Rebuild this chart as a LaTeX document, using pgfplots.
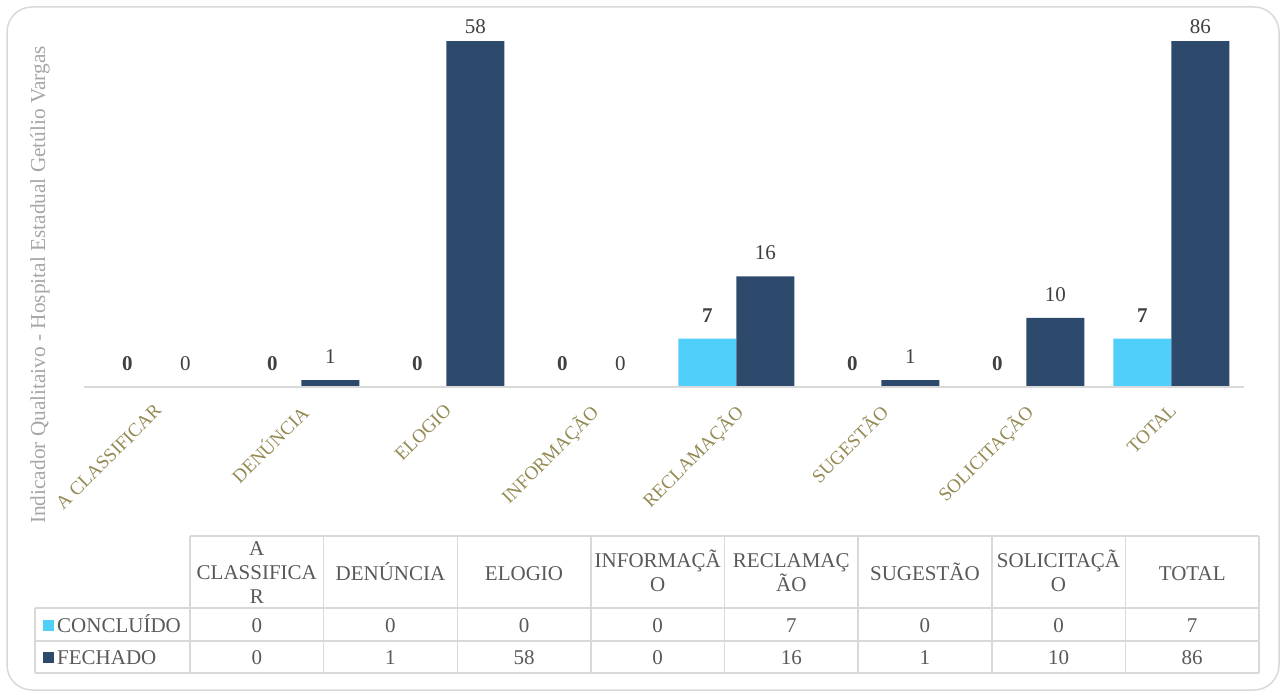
\documentclass[border=0pt]{standalone}
\usepackage{fontspec}
\setmainfont{Liberation Serif}
\usepackage{pgfplots}
\usepackage{pgfplotstable}
\pgfplotsset{compat=1.18}
\definecolor{cblue}{HTML}{4FCFFA}
\definecolor{cnavy}{HTML}{2D4A6C}
\definecolor{tickc}{HTML}{948A54}
\definecolor{labc}{HTML}{404040}
\definecolor{gridc}{HTML}{D9D9D9}
\definecolor{tabc}{HTML}{595959}
\definecolor{ylabc}{HTML}{A6A6A6}

\pgfplotstableread{
x c f
0 0 0
1 0 1
2 0 58
3 0 0
4 7 16
5 0 1
6 0 10
7 7 86
}\data

\newcommand{\tf}{\fontsize{21}{24}\selectfont}

\begin{document}
\begin{tikzpicture}[x=1pt,y=1pt]
\path[use as bounding box] (0,0) rectangle (1286,697);
\draw[gridc, line width=1.5pt, rounded corners=25pt] (7,7) rectangle (1279,690);
\node[rotate=90, text=ylabc, font=\fontsize{21.3}{24}\selectfont] at (40,412) {Indicador Qualitaivo - Hospital Estadual Getúlio Vargas};
\begin{axis}[
  at={(84pt,310pt)}, anchor=south west,
  width=1160pt, height=346pt, scale only axis,
  xmin=-0.5, xmax=7.5, ymin=0, ymax=50,
  ybar=0pt, bar width=58pt,
  hide y axis,
  axis x line*=bottom,
  axis on top,
  x axis line style={draw=gridc, line width=1.5pt, -},
  xtick={0,...,7},
  xticklabels={A CLASSIFICAR, DENÚNCIA, ELOGIO, INFORMAÇÃO, RECLAMAÇÃO, SUGESTÃO, SOLICITAÇÃO, TOTAL},
  major tick length=0pt,
  xticklabel style={xshift=-3pt, yshift=-11pt, rotate=45, anchor=north east, font=\fontsize{19}{22}\selectfont, text=tickc},
  clip=false,
  /pgf/number format/assume math mode=true,
  nodes near coords,
  nodes near coords style={font=\tf, text=labc, anchor=south, inner sep=0pt},
]
\addplot[fill=cblue, draw=none, nodes near coords style={font=\tf\bfseries, yshift=16pt}] table[x=x, y=c] \data;
\addplot[fill=cnavy, draw=none, point meta=explicit,
  y filter/.expression={min(y,50)},
  visualization depends on={\thisrow{f} \as \fval},
  nodes near coords style={yshift={ifthenelse(\fval>50,7,16)}}] table[x=x, y=f, meta=f] \data;
\end{axis}
% data table
\begin{scope}[gridc, line width=1.5pt]
\draw (190,161) -- (1259,161);
\foreach \yy in {89,56,24} \draw (35,\yy) -- (1259,\yy);
\draw (35,89) -- (35,24);
\foreach \i in {0,...,8} \draw ({190+133.625*\i},161) -- ({190+133.625*\i},24);
\end{scope}
\begin{scope}[every node/.style={font=\tf, text=tabc, inner sep=0pt, anchor=base}]
% headers
\node at ({190+133.625*0.5},142) {A};
\node at ({190+133.625*0.5},118) {CLASSIFICA};
\node at ({190+133.625*0.5},94) {R};
\node at ({190+133.625*1.5},117) {DENÚNCIA};
\node at ({190+133.625*2.5},117) {ELOGIO};
\node at ({190+133.625*3.5},130) {INFORMAÇÃ};
\node at ({190+133.625*3.5},106) {O};
\node at ({190+133.625*4.5},130) {RECLAMAÇ};
\node at ({190+133.625*4.5},106) {ÃO};
\node at ({190+133.625*5.5},117) {SUGESTÃO};
\node at ({190+133.625*6.5},130) {SOLICITAÇÃ};
\node at ({190+133.625*6.5},106) {O};
\node at ({190+133.625*7.5},117) {TOTAL};
% rows
\foreach \v [count=\k from 0] in {0,0,0,0,7,0,0,7}
  \node at ({190+133.625*(\k+0.5)},65) {\v};
\foreach \v [count=\k from 0] in {0,1,58,0,16,1,10,86}
  \node at ({190+133.625*(\k+0.5)},33) {\v};
\node[anchor=base west] at (57,65) {CONCLUÍDO};
\node[anchor=base west] at (57,33) {FECHADO};
\end{scope}
\fill[cblue] (43,66) rectangle (54,77);
\fill[cnavy] (43,34) rectangle (54,45);
\end{tikzpicture}
\end{document}
